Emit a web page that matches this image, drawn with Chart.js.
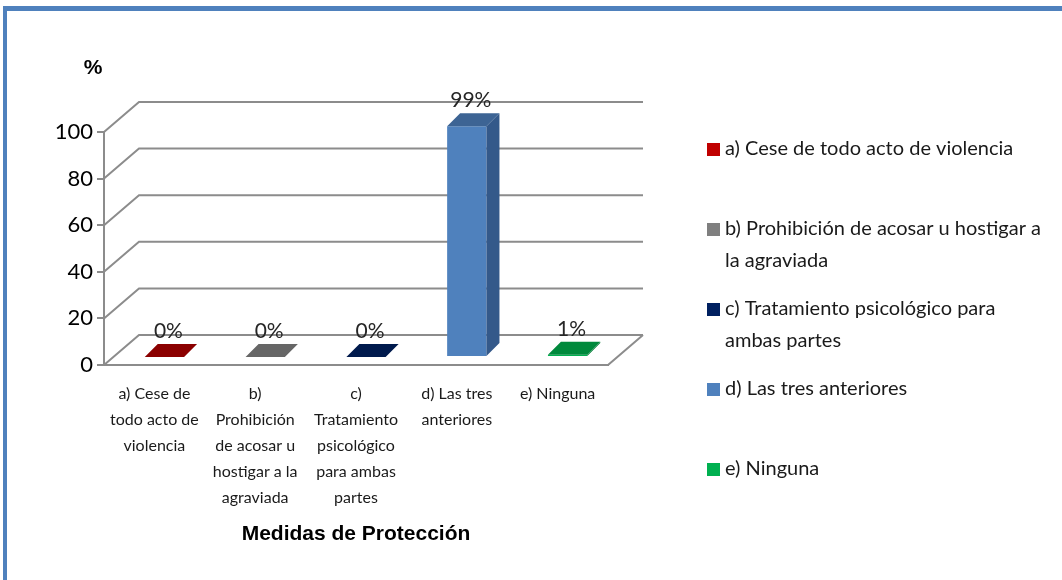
<!DOCTYPE html>
<html>
<head>
<meta charset="utf-8">
<script src="https://cdn.jsdelivr.net/npm/chart.js@4.4.0/dist/chart.umd.min.js"></script>
<style>
  html, body { margin: 0; padding: 0; background: #fff; }
  #wrap { position: relative; width: 1062px; height: 580px; overflow: hidden; }
  #frame { position: absolute; left: 3px; top: 6px; right: -10px; bottom: -10px;
           border-top: 5px solid #4F81BD; border-left: 4px solid #4F81BD; }
  canvas { position: absolute; left: 0; top: 0; }
</style>
</head>
<body>
<div id="wrap">
  <div id="frame"></div>
  <canvas id="chart" width="1062" height="580"></canvas>
</div>
<script>
// data
const categories = [
  ['a) Cese de', 'todo acto de', 'violencia'],
  ['b)', 'Prohibición', 'de acosar u', 'hostigar a la', 'agraviada'],
  ['c)', 'Tratamiento', 'psicológico', 'para ambas', 'partes'],
  ['d) Las tres', 'anteriores'],
  ['e) Ninguna']
];
const legendLabels = [
  ['a) Cese de todo acto de violencia'],
  ['b) Prohibición de acosar u hostigar a', 'la agraviada'],
  ['c) Tratamiento psicológico para', 'ambas partes'],
  ['d) Las tres anteriores'],
  ['e) Ninguna']
];
const values = [0, 0, 0, 99, 1];
const yTicks = [0, 20, 40, 60, 80, 100];

const frontColors = ['#C00000', '#7F7F7F', '#002060', '#4F81BD', '#00B050'];
const topColors = ['#8B0000', '#666666', '#001A4D', '#3D6494', '#00893C'];
const sideColors = ['#800000', '#555555', '#00153D', '#34598A', '#007A35'];

const wallDepth = { x: 35, y: -30 };
const barShift = { x: 10, y: -8 };
const barDepth = { x: 13, y: -13 };
const lineColor = '#8C8C8C';
const textFont = 'Lato, "Open Sans", sans-serif';

const threeD = {
  id: 'threeD',
  beforeDatasetsDraw(chart) {
    const { ctx, chartArea: a, scales: { y } } = chart;
    ctx.save();
    ctx.strokeStyle = lineColor;
    ctx.lineWidth = 2;
    // floor outline
    ctx.beginPath();
    ctx.moveTo(a.left, a.bottom);
    ctx.lineTo(a.right, a.bottom);
    ctx.lineTo(a.right + wallDepth.x, a.bottom + wallDepth.y);
    ctx.stroke();
    // side wall diagonals and back wall grid
    yTicks.forEach(v => {
      const py = y.getPixelForValue(v);
      ctx.beginPath();
      ctx.moveTo(a.left, py);
      ctx.lineTo(a.left + wallDepth.x, py + wallDepth.y);
      ctx.lineTo(a.right + wallDepth.x, py + wallDepth.y);
      ctx.stroke();
    });
    ctx.restore();
    // bars sit a little way into the floor
    ctx.save();
    ctx.translate(barShift.x, barShift.y);
  },
  afterDatasetsDraw(chart) {
    const { ctx } = chart;
    const meta = chart.getDatasetMeta(0);
    meta.data.forEach((bar, i) => {
      const { x, y, base, width } = bar.getProps(['x', 'y', 'base', 'width'], true);
      const l = x - width / 2, r = x + width / 2;
      if (base - y > 0.5) {
        ctx.fillStyle = sideColors[i];
        ctx.beginPath();
        ctx.moveTo(r, y);
        ctx.lineTo(r + barDepth.x, y + barDepth.y);
        ctx.lineTo(r + barDepth.x, base + barDepth.y);
        ctx.lineTo(r, base);
        ctx.closePath();
        ctx.fill();
      }
      ctx.fillStyle = topColors[i];
      ctx.beginPath();
      ctx.moveTo(l, y);
      ctx.lineTo(r, y);
      ctx.lineTo(r + barDepth.x, y + barDepth.y);
      ctx.lineTo(l + barDepth.x, y + barDepth.y);
      ctx.closePath();
      ctx.fill();
      // value label
      ctx.fillStyle = '#262626';
      ctx.font = '21px ' + textFont;
      ctx.textAlign = 'center';
      ctx.textBaseline = 'alphabetic';
      ctx.fillText(values[i] + '%', x + 4, y + barDepth.y - 6);
    });
    ctx.restore();

    // unit label
    ctx.save();
    ctx.fillStyle = '#000';
    ctx.font = 'bold 21px "Liberation Sans", Arial, sans-serif';
    ctx.textAlign = 'center';
    ctx.textBaseline = 'middle';
    ctx.fillText('%', 93, 68);

    // legend
    ctx.font = '20px ' + textFont;
    ctx.textAlign = 'left';
    legendLabels.forEach((lines, i) => {
      const cy = 149 + i * 80;
      ctx.fillStyle = frontColors[i];
      ctx.fillRect(707, cy - 6, 13, 13);
      ctx.fillStyle = '#1a1a1a';
      lines.forEach((t, j) => ctx.fillText(t, 725, cy + j * 32));
    });
    ctx.restore();
  }
};

new Chart(document.getElementById('chart').getContext('2d'), {
  type: 'bar',
  data: {
    labels: categories,
    datasets: [{
      data: values,
      backgroundColor: frontColors,
      borderWidth: 0,
      barPercentage: 0.39,
      categoryPercentage: 1
    }]
  },
  options: {
    responsive: false,
    animation: false,
    layout: { padding: { left: 20, right: 454, top: 132, bottom: 29 } },
    plugins: {
      legend: { display: false },
      tooltip: { enabled: false }
    },
    scales: {
      x: {
        grid: { display: false },
        border: { display: true, color: lineColor, width: 2 },
        ticks: {
          color: '#1a1a1a',
          font: { family: textFont, size: 16, lineHeight: '26px' },
          padding: 8,
          maxRotation: 0,
          autoSkip: false
        },
        title: {
          display: true,
          text: 'Medidas de Protección',
          color: '#000',
          font: { family: '"Liberation Sans", Arial, sans-serif', size: 21, weight: 'bold' }
        },
        afterFit: s => { s.height = 186; }
      },
      y: {
        min: 0,
        max: 100,
        grid: { drawOnChartArea: false, drawTicks: true, tickLength: 7, color: lineColor, lineWidth: 2 },
        border: { display: true, color: lineColor, width: 2 },
        ticks: {
          stepSize: 20,
          color: '#000',
          padding: 4,
          font: { family: textFont, size: 22 }
        },
        afterFit: s => { s.width = 84; }
      }
    }
  },
  plugins: [threeD]
});
</script>
</body>
</html>
